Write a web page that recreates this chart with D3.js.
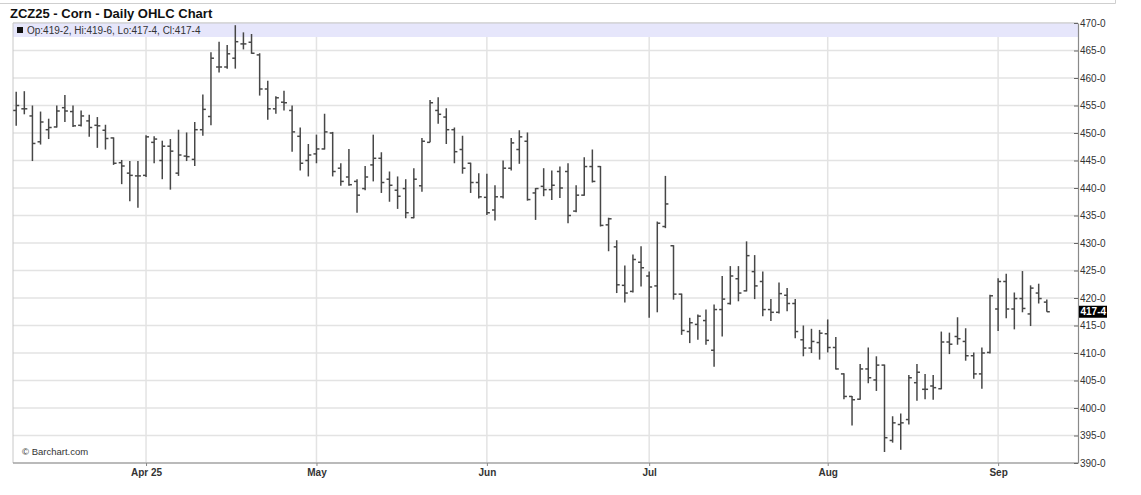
<!DOCTYPE html>
<html><head><meta charset="utf-8">
<script src="https://cdn.jsdelivr.net/npm/d3@7"></script>
<style>body{margin:0;background:#fff}svg{display:block}text{font-family:"Liberation Sans",Arial,sans-serif}</style>
</head><body><svg id="c" width="1141" height="495"></svg>
<script>
// ---- data (trading-day index 0..127, ~Mar 10 to Sep 10 2025) ----
const opens  = [454.1,454.4,453.1,448.4,450.6,451.1,454.6,453.9,451.4,452.2,451.4,450.5,449.1,444.6,442.7,442.2,442.3,448.3,445.0,447.6,
442.7,445.8,445.2,450.6,453.0,462.0,462.0,463.6,466.2,466.5,464.2,458.0,454.4,455.6,454.1,449.4,445.0,446.2,447.1,450.0,
443.6,442.0,441.2,439.9,444.2,445.4,441.6,439.6,439.9,434.6,440.4,448.3,454.1,452.9,450.6,447.0,444.5,441.0,438.3,436.0,
438.4,443.6,447.0,448.5,439.1,440.3,439.7,443.0,443.0,435.8,438.7,443.9,443.9,433.3,429.3,422.3,421.2,426.5,424.0,422.2,
433.0,429.5,420.7,413.9,415.2,415.9,410.5,417.9,419.0,423.5,421.3,424.8,423.0,417.9,417.4,420.5,419.0,412.4,410.9,411.9,
413.5,411.0,406.2,402.1,401.6,407.1,405.1,407.8,394.1,397.0,397.9,404.6,403.4,404.0,403.5,412.0,413.0,412.1,409.5,406.2,
410.1,418.0,423.0,418.0,419.9,417.1,420.9,419.25];
const highs  = [457.5,457.6,455.0,453.9,452.6,455.0,456.9,455.0,454.1,453.3,452.9,451.5,449.2,445.1,444.9,444.9,449.6,449.4,448.6,448.9,
450.6,450.1,452.0,457.0,464.7,466.6,466.0,469.6,468.3,468.0,464.5,459.5,456.7,457.7,455.0,451.0,448.0,449.7,453.5,450.2,
444.5,447.1,441.6,444.0,449.7,446.5,443.0,442.1,441.6,443.6,449.1,456.0,456.5,454.5,451.0,449.5,444.6,442.7,442.6,440.5,
445.0,449.1,450.5,450.1,440.0,443.6,443.2,443.9,444.5,440.5,445.6,447.0,444.0,434.6,430.5,425.9,427.9,429.4,424.8,433.9,
442.2,429.6,420.8,416.4,417.0,417.9,418.8,424.0,425.8,425.8,430.3,427.8,424.8,419.8,422.8,421.8,419.8,415.0,414.4,414.2,
416.1,412.9,406.3,402.2,408.0,411.0,409.4,407.9,398.5,399.0,406.0,408.0,406.2,406.0,413.9,413.7,416.5,414.5,410.1,411.0,
420.6,423.6,424.4,421.0,424.9,422.3,422.6,419.75];
const lows   = [451.3,453.4,444.9,447.9,448.9,451.0,452.0,451.1,451.2,449.3,447.3,447.0,444.2,440.7,437.6,436.4,442.0,444.5,441.6,439.7,
442.2,444.9,444.0,449.5,451.4,461.0,461.7,461.7,465.2,464.4,456.8,452.4,453.5,454.1,446.6,443.2,442.1,444.5,447.0,442.1,
440.4,440.4,435.5,439.6,441.2,439.1,437.5,436.2,434.5,434.5,439.3,448.3,451.7,448.0,444.5,442.6,439.1,438.1,435.1,434.1,
438.1,443.2,444.4,437.7,434.2,438.5,437.8,438.2,433.6,435.6,438.6,441.0,433.0,428.5,420.9,419.2,421.0,422.1,416.4,417.4,
432.7,419.7,413.3,411.8,412.4,411.5,407.5,413.0,418.8,419.4,421.2,419.8,416.7,415.8,417.2,417.6,412.7,409.4,410.0,408.8,
410.1,407.0,401.6,396.8,401.5,404.5,403.1,392.0,393.7,392.4,397.0,401.3,401.6,401.5,403.4,409.8,411.5,408.6,405.3,403.5,
409.9,414.0,416.3,414.3,417.4,414.9,419.0,417.5];
const closes = [455.0,454.4,448.1,452.0,451.0,454.0,454.0,451.3,453.1,451.0,451.3,449.0,444.5,444.0,442.3,442.2,449.3,448.9,447.6,446.7,
446.0,445.7,450.6,454.3,463.6,462.0,464.4,466.6,466.2,464.5,458.0,454.4,456.4,455.5,450.2,444.5,446.0,447.1,450.2,443.0,
441.2,440.6,438.7,442.0,445.4,441.0,440.5,438.5,435.5,441.6,448.5,455.5,453.4,450.6,446.6,443.6,441.0,438.4,435.5,438.4,
443.6,448.2,449.3,437.9,439.9,439.7,440.5,440.0,435.0,438.7,443.9,441.2,433.2,434.4,422.4,420.9,427.0,425.5,422.0,433.6,
437.1,420.7,414.1,415.5,416.7,412.3,417.9,419.8,424.0,420.9,427.7,422.2,417.9,417.4,420.8,419.0,413.9,410.9,412.1,413.6,
411.0,407.1,402.1,401.5,407.1,405.5,407.8,394.6,397.3,397.3,405.5,406.5,403.4,403.7,412.0,411.6,412.6,409.5,406.2,410.0,
420.4,423.0,418.0,419.9,418.1,421.8,419.9,417.5];
const monthLabels = ["Apr 25","May","Jun","Jul","Aug","Sep"];
const monthStartIndex = [16,37,58,78,100,121];
const priceTicks = [390,395,400,405,410,415,420,425,430,435,440,445,450,455,460,465,470];
const titleText = "ZCZ25 - Corn - Daily OHLC Chart";
const creditText = "\u00A9 Barchart.com";

// ---- layout ----
const L = 13, R = 1078, T = 23, B = 463;
const svg = d3.select("#c");
const x = d3.scaleLinear().domain([0, opens.length - 1]).range([16.2, 1046.8]);
const y = d3.scaleLinear().domain([390, 470]).range([B, T]);
const fmt = v => { const f = Math.floor(v + 1e-9); return f + "-" + Math.round((v - f) * 8); };

// top remnant box
svg.append("path").attr("d", "M0,3.5H1115.5V-1").attr("fill", "none").attr("stroke", "#cfcfcf");

// title
svg.append("text").attr("x", 10).attr("y", 17.5).attr("font-size", 13).attr("font-weight", "bold")
  .attr("fill", "#111").text(titleText);

// grid
svg.append("g").selectAll("line").data(priceTicks).join("line")
  .attr("x1", L).attr("x2", R).attr("y1", d => y(d)).attr("y2", d => y(d))
  .attr("stroke", "#e3e3e3").attr("stroke-width", 1.5);
svg.append("g").selectAll("line").data(monthStartIndex).join("line")
  .attr("x1", d => x(d)).attr("x2", d => x(d)).attr("y1", T).attr("y2", B)
  .attr("stroke", "#e3e3e3").attr("stroke-width", 1.5);

// legend band
svg.append("rect").attr("x", L).attr("y", T).attr("width", R - L).attr("height", 14).attr("fill", "#e6e6fb");
svg.append("rect").attr("x", 17).attr("y", 27).attr("width", 6).attr("height", 6).attr("fill", "#111");
const n = opens.length - 1;
svg.append("text").attr("x", 27).attr("y", 34).attr("font-size", 10).attr("fill", "#333")
  .text(`Op:${fmt(opens[n])}, Hi:${fmt(highs[n])}, Lo:${fmt(lows[n])}, Cl:${fmt(closes[n])}`);

// frame
svg.append("path").attr("d", `M${R},${T}H${L}V${B}`).attr("fill", "none").attr("stroke", "#c8c8c8").attr("stroke-width", 1);
svg.append("line").attr("x1", L).attr("x2", R).attr("y1", B).attr("y2", B).attr("stroke", "#8a8a8a").attr("stroke-width", 1.2);

// OHLC bars
const bars = svg.append("g").attr("stroke", "#474747").attr("stroke-width", 1.5);
const idx = d3.range(opens.length);
bars.selectAll("line.hl").data(idx).join("line").attr("class", "hl")
  .attr("x1", i => x(i)).attr("x2", i => x(i)).attr("y1", i => y(highs[i])).attr("y2", i => y(lows[i]));
bars.selectAll("line.o").data(idx).join("line").attr("class", "o")
  .attr("x1", i => x(i) - 3).attr("x2", i => x(i)).attr("y1", i => y(opens[i])).attr("y2", i => y(opens[i]));
bars.selectAll("line.c").data(idx).join("line").attr("class", "c")
  .attr("x1", i => x(i)).attr("x2", i => x(i) + 3).attr("y1", i => y(closes[i])).attr("y2", i => y(closes[i]));

// right axis
const ya = svg.append("g").attr("transform", `translate(${R},0)`)
  .call(d3.axisRight(y).tickValues(priceTicks).tickFormat(d => d + "-0").tickSizeInner(-4).tickSizeOuter(0).tickPadding(2));
ya.select(".domain").attr("stroke", "#8a8a8a").attr("stroke-width", 1.2);
ya.selectAll(".tick line").attr("stroke", "#666");
ya.selectAll("text").attr("font-size", 10).attr("fill", "#333").attr("font-family", '"Liberation Sans",Arial,sans-serif');

// last price marker
const lp = closes[n];
svg.append("rect").attr("x", R + 1).attr("y", y(lp) - 6).attr("width", 28).attr("height", 12).attr("fill", "#000");
svg.append("text").attr("x", R + 2.5).attr("y", y(lp) + 3.5).attr("font-size", 10).attr("font-weight", "bold")
  .attr("fill", "#fff").text(fmt(lp));

// bottom axis
const xa = svg.append("g").attr("transform", `translate(0,${B})`)
  .call(d3.axisBottom(x).tickValues(monthStartIndex).tickFormat((d, i) => monthLabels[i]).tickSizeInner(3).tickSizeOuter(0).tickPadding(3));
xa.select(".domain").remove();
xa.selectAll(".tick line").attr("stroke", "#888");
xa.selectAll("text").attr("font-size", 10).attr("font-weight", "bold").attr("fill", "#333")
  .attr("font-family", '"Liberation Sans",Arial,sans-serif');

// credit
svg.append("text").attr("x", 22).attr("y", 455).attr("font-size", 9.5).attr("fill", "#333").text(creditText);
</script></body></html>
